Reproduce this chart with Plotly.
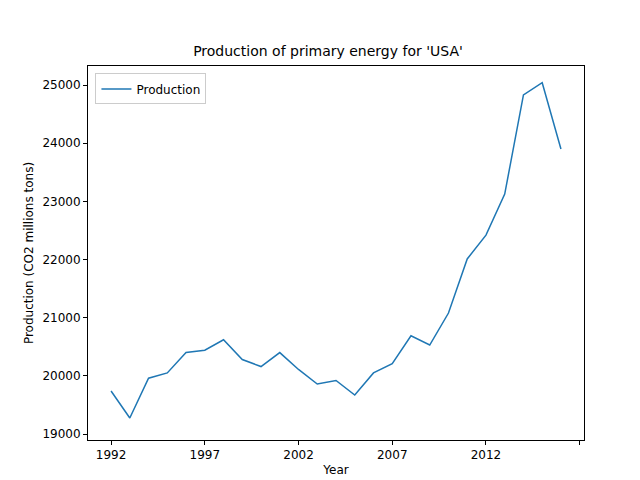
import plotly.graph_objects as go

years = list(range(1992, 2017))
production = [19740, 19275, 19960, 20050, 20400, 20440, 20620, 20280, 20160, 20400, 20110, 19860, 19920, 19670, 20050, 20210, 20690, 20530, 21080, 22010, 22420, 23125, 24830, 25040, 23900]
xticks = [1992, 1997, 2002, 2007, 2012, 2017]
xlabels = ["1992", "1997", "2002", "2007", "2012", ""]
yticks = list(range(19000, 25001, 1000))
ylabels = [str(v) for v in yticks]

fig = go.Figure(go.Scatter(x=years, y=production, mode="lines", name="Production",
                           line=dict(color="#1f77b4", width=1.5)))
ax = dict(showgrid=False, zeroline=False, showline=True, mirror=True, linecolor="black",
          ticks="outside", ticklen=4, tickcolor="black", tickfont=dict(size=12, color="black"),
          automargin=False)
fig.update_layout(
    width=640, height=480, plot_bgcolor="white", paper_bgcolor="white",
    margin=dict(l=80, r=64, t=58, b=48),
    font=dict(family="DejaVu Sans", color="black"),
    title=dict(text="Production of primary energy for 'USA'", x=0.5, xanchor="center",
               y=0.91, yanchor="middle", font=dict(size=14)),
    xaxis=dict(ax, range=[1990.77, 2017.23], tickvals=xticks, ticktext=xlabels,
               title=dict(text="Year", font=dict(size=12), standoff=4)),
    yaxis=dict(ax, range=[18897, 25327], tickvals=yticks, ticktext=ylabels,
               title=dict(text="Production (CO2 millions tons)", font=dict(size=12), standoff=6)),
    showlegend=True,
    legend=dict(x=0.015, y=0.98, xanchor="left", yanchor="top", bordercolor="#cccccc", borderwidth=1,
                font=dict(size=12)),
)
fig.write_html("out.html")
